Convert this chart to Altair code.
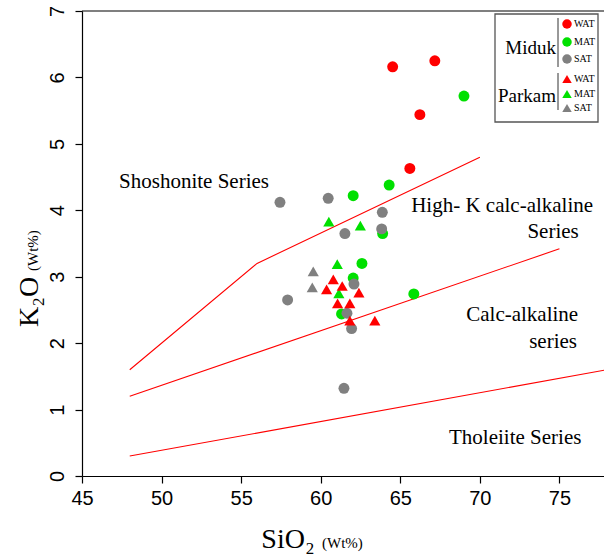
import altair as alt
import pandas as pd

# ---------------- data ----------------
miduk_wat_x = [67.17, 64.52, 66.23, 65.60]
miduk_wat_y = [6.25, 6.16, 5.44, 4.63]
miduk_mat_x = [69.00, 64.30, 62.04, 63.89, 62.59, 62.04, 65.85, 61.31]
miduk_mat_y = [5.72, 4.38, 4.22, 3.65, 3.20, 2.98, 2.74, 2.44]
miduk_sat_x = [57.44, 60.47, 63.87, 63.83, 61.52, 57.92, 62.09, 61.65, 61.94, 61.46]
miduk_sat_y = [4.12, 4.18, 3.97, 3.72, 3.65, 2.65, 2.89, 2.45, 2.22, 1.32]
parkam_wat_x = [60.79, 61.35, 60.37, 62.40, 61.06, 61.83, 61.83, 63.40]
parkam_wat_y = [2.96, 2.86, 2.81, 2.76, 2.60, 2.60, 2.34, 2.34]
parkam_mat_x = [60.51, 62.49, 61.04, 61.14]
parkam_mat_y = [3.83, 3.77, 3.19, 2.75]
parkam_sat_x = [59.53, 59.47]
parkam_sat_y = [3.08, 2.84]

# field boundaries
b1_x = [48, 56, 70]
b1_y = [1.6, 3.2, 4.8]
b2_x = [48, 75]
b2_y = [1.2, 3.42]
b3_x = [48, 78]
b3_y = [0.3, 1.6]

annot_text = ["Shoshonite Series", "High- K calc-alkaline", "Series",
              "Calc-alkaline", "series", "Tholeiite Series"]
annot_x = [52.04, 71.40, 74.60, 72.66, 74.60, 72.22]
annot_y = [4.43, 4.06, 3.67, 2.42, 2.02, 0.57]

x_ticks = [45, 50, 55, 60, 65, 70, 75]
y_ticks = [0, 1, 2, 3, 4, 5, 6, 7]
groups = ["Miduk", "Parkam"]
types = ["WAT", "MAT", "SAT"]

RED, GREEN, GRAY = "#ff0000", "#00e000", "#808080"
type_colors = {"WAT": RED, "MAT": GREEN, "SAT": GRAY}
group_shapes = {"Miduk": "circle", "Parkam": "triangle-up"}

# ---------------- layout ----------------
W, H = 522, 465
XMIN, XMAX, YMIN, YMAX = 45, 77.8, 0, 7
SERIF = "Liberation Serif"
SANS = "Liberation Sans"


def px_x(p):
    return XMIN + p * (XMAX - XMIN) / W


def px_y(p):
    return YMAX - p * (YMAX - YMIN) / H


xs = alt.Scale(domain=[XMIN, XMAX], nice=False, zero=False)
ys = alt.Scale(domain=[YMIN, YMAX], nice=False, zero=False)
x_axis = alt.Axis(values=x_ticks, title=None, grid=False, domainColor="black",
                  tickColor="black", tickSize=7, labelFont=SANS, labelFontSize=20,
                  labelColor="black", labelPadding=5, labelFlush=False,
                  labelOverlap=False, domainWidth=1.2, tickWidth=1.2)
y_axis = alt.Axis(values=y_ticks, title=None, grid=False, domainColor="black",
                  tickColor="black", tickSize=7, labelFont=SANS, labelFontSize=20,
                  labelColor="black", labelPadding=8, labelAngle=270,
                  labelAlign="center", labelBaseline="bottom",
                  labelOverlap=False, domainWidth=1.2, tickWidth=1.2)
X = alt.X("x:Q", scale=xs, axis=x_axis)
Y = alt.Y("y:Q", scale=ys, axis=y_axis)

# ---------------- points ----------------
series = [
    ("Miduk", "MAT", miduk_mat_x, miduk_mat_y),
    ("Miduk", "WAT", miduk_wat_x, miduk_wat_y),
    ("Miduk", "SAT", miduk_sat_x, miduk_sat_y),
    ("Parkam", "MAT", parkam_mat_x, parkam_mat_y),
    ("Parkam", "WAT", parkam_wat_x, parkam_wat_y),
    ("Parkam", "SAT", parkam_sat_x, parkam_sat_y),
]
rows = []
for g, t, xv, yv in series:
    for a, b in zip(xv, yv):
        rows.append({"x": a, "y": b, "group": g, "type": t})
pts = pd.DataFrame(rows)
pts["order"] = range(len(pts))

color_scale = alt.Scale(domain=types, range=[type_colors[t] for t in types])

circles = alt.Chart(pts[pts.group == "Miduk"]).mark_point(
    filled=True, opacity=1, size=120, strokeWidth=0).encode(
    x=X, y=Y, color=alt.Color("type:N", scale=color_scale, legend=None),
    order="order:Q")
triangles = alt.Chart(pts[pts.group == "Parkam"]).mark_point(
    filled=True, opacity=1, size=125, shape="triangle-up", strokeWidth=0).encode(
    x=X, y=Y, color=alt.Color("type:N", scale=color_scale, legend=None),
    order="order:Q")

# ---------------- boundary lines ----------------
lrows = []
for name, xv, yv in [("b1", b1_x, b1_y), ("b2", b2_x, b2_y), ("b3", b3_x, b3_y)]:
    for i, (a, b) in enumerate(zip(xv, yv)):
        lrows.append({"x": a, "y": b, "b": name, "i": i})
lines = alt.Chart(pd.DataFrame(lrows)).mark_line(
    color=RED, strokeWidth=1.1, clip=True).encode(
    x=X, y=Y, detail="b:N", order="i:Q")

# ---------------- annotations ----------------
ann = alt.Chart(pd.DataFrame({"x": annot_x, "y": annot_y, "t": annot_text})).mark_text(
    font=SERIF, fontSize=21, color="black", align="center", baseline="middle").encode(
    x=X, y=Y, text="t:N")

# ---------------- top border ----------------
one = pd.DataFrame({"a": [0]})
top = alt.Chart(one).mark_rule(color="black", strokeWidth=1.2).encode(
    x=alt.value(0), x2=alt.value(W), y=alt.value(0))

# ---------------- axis titles ----------------
xt1 = alt.Chart(one).mark_text(font=SERIF, fontSize=28, align="center",
                               baseline="alphabetic", color="black").encode(
    x=alt.value(206), y=alt.value(537), text=alt.value("SiO₂"))
xt2 = alt.Chart(one).mark_text(font=SERIF, fontSize=15, align="left",
                               baseline="alphabetic", color="black").encode(
    x=alt.value(240), y=alt.value(537), text=alt.value("(Wt%)"))
yt1 = alt.Chart(one).mark_text(font=SERIF, fontSize=28, align="left", angle=270,
                               baseline="alphabetic", color="black").encode(
    x=alt.value(-44), y=alt.value(316), text=alt.value("K₂O"))
yt2 = alt.Chart(one).mark_text(font=SERIF, fontSize=15, align="left", angle=270,
                               baseline="alphabetic", color="black").encode(
    x=alt.value(-44), y=alt.value(260), text=alt.value("(Wt%)"))

# ---------------- custom legend (inside plot, data coords) ----------------
box = alt.Chart(pd.DataFrame({"x": [px_x(413)], "x2": [px_x(516)],
                              "y": [px_y(3)], "y2": [px_y(111)]})).mark_rect(
    fill="white", stroke="#555555", strokeWidth=1.3).encode(
    x=X, x2="x2:Q", y=Y, y2="y2:Q")

sep = alt.Chart(pd.DataFrame({"x": [px_x(476), px_x(476)],
                              "y": [px_y(7), px_y(62)],
                              "y2": [px_y(56), px_y(99)]})).mark_rule(
    color="#333333", strokeWidth=1).encode(x=X, y=Y, y2="y2:Q")

gname = alt.Chart(pd.DataFrame({"x": [px_x(474)] * 2,
                                "y": [px_y(37), px_y(85)],
                                "t": groups})).mark_text(
    font=SERIF, fontSize=19, align="right", baseline="middle", color="black").encode(
    x=X, y=Y, text="t:N")

row_px = {"Miduk": [13, 31, 48], "Parkam": [68, 83, 97]}
leg_rows = []
for g in groups:
    for t, ry in zip(types, row_px[g]):
        leg_rows.append({"x": px_x(485), "y": px_y(ry), "xl": px_x(492),
                         "group": g, "type": t})
leg = pd.DataFrame(leg_rows)
leg_c = alt.Chart(leg[leg.group == "Miduk"]).mark_point(
    filled=True, opacity=1, size=90, strokeWidth=0).encode(
    x=X, y=Y, color=alt.Color("type:N", scale=color_scale, legend=None))
leg_t = alt.Chart(leg[leg.group == "Parkam"]).mark_point(
    filled=True, opacity=1, size=90, shape="triangle-up", strokeWidth=0).encode(
    x=X, y=Y, color=alt.Color("type:N", scale=color_scale, legend=None))
leg_lab = alt.Chart(leg).mark_text(
    font=SERIF, fontSize=10, align="left", baseline="middle", color="black").encode(
    x=alt.X("xl:Q", scale=xs, axis=x_axis), y=Y, text="type:N")

chart = alt.layer(
    lines, ann, circles, triangles, top, xt1, xt2, yt1, yt2,
    box, sep, gname, leg_c, leg_t, leg_lab
).properties(
    width=W, height=H,
    autosize=alt.AutoSizeParams(type="none"),
    padding={"left": 82, "top": 11, "right": 0, "bottom": 79},
    background="white",
).configure_view(stroke=None)

chart.save("out.html", embed_options={"renderer": "svg", "actions": False})
